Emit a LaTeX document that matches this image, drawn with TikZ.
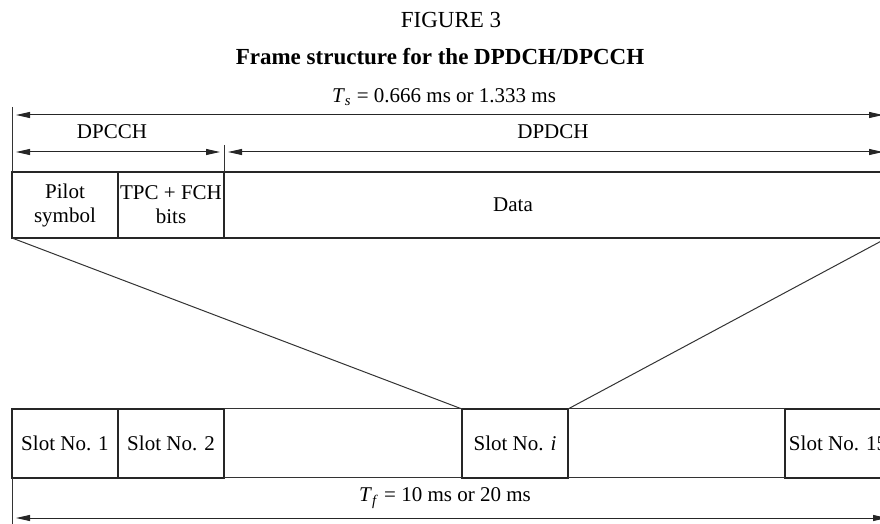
\documentclass[tikz,border=0pt]{standalone}
\usepackage{fontspec}
\setmainfont{Liberation Serif}
\usetikzlibrary{arrows.meta, positioning, calc}

\begin{document}
\begin{tikzpicture}[
    x=0.5pt, y=-0.5pt,
    >={Triangle[length=7pt, width=3pt]},
    font=\fontsize{10.5}{12}\selectfont,
    cell/.style={draw=black!85, line width=0.6pt, minimum height=33pt, inner sep=0pt, outer sep=0pt, anchor=north west, align=center},
    slot/.style={draw=black!85, line width=0.9pt, minimum width=53pt, minimum height=34.5pt, inner sep=0pt, outer sep=0pt, anchor=north west},
    dim/.style={<->, line width=0.5pt, black!85, shorten <=2pt, shorten >=2pt},
    guide/.style={line width=0.5pt, black!80},
    caption/.style={font=\fontsize{11.5}{13}\selectfont}
  ]
    \useasboundingbox (0,0) rectangle (880,524);
    \clip (0,0) rectangle (880,524);
    % headings
    \node[caption] (fig) at (451,20) {FIGURE 3};
    \node[caption, font=\fontsize{11.5}{13}\selectfont\bfseries] (title) at (440,57) {Frame structure for the DPDCH/DPCCH};
    % one slot, expanded
    \node[cell, minimum width=53pt] (pilot) at (12,172) {Pilot\\symbol};
    \node[cell, minimum width=53pt] (tpc) at (pilot.north east) {TPC + FCH\\bits};
    \node[cell, minimum width=331.5pt] (data) at (tpc.north east) {};
    \node (datatxt) at (513,205) {Data};
    \coordinate (tstop) at (12,107);
    \coordinate (tsL) at (12,115);
    \coordinate (chL) at (12,152);
    \coordinate (tick) at (224,145);
    \draw[guide] (tstop) -- (pilot.north west);
    \draw[guide] (tick) -- (tpc.north east);
    \draw[dim] (tsL) -- (tsL -| data.east);
    \draw[dim] (chL) -- (chL -| tpc.east);
    \draw[dim] (chL -| tpc.east) -- (chL -| data.east);
    \node (ts) at (444,97) {\textit{T}\textsubscript{\textit{s}} = 0.666 ms or 1.333 ms};
    \node (dpcch) at (112,132) {DPCCH};
    \node (dpdch) at (553,132) {DPDCH};
    % frame of 15 slots
    \node[slot] (slot1) at (12,409) {Slot No. 1};
    \node[slot] (slot2) at (slot1.north east) {Slot No. 2};
    \node[slot] (sloti) at (462,409) {Slot No. \textit{i}};
    \node[slot] (slotn) at (785,409) {Slot No. 15};
    \draw[guide] (slot2.north east) -- (sloti.north west);
    \draw[guide] (slot2.south east) -- (sloti.south west);
    \draw[guide] (sloti.north east) -- (slotn.north west);
    \draw[guide] (sloti.south east) -- (slotn.south west);
    \coordinate (tfstop) at (12,524);
    \coordinate (tfL) at (12,518);
    \draw[guide] (slot1.south west) -- (tfstop);
    \draw[dim] (tfL) -- (tfL -| slotn.east);
    \node (tf) at (445,498) {\textit{T}\textsubscript{\textit{f}} = 10 ms or 20 ms};
    % zoom lines
    \draw[guide] (pilot.south west) -- (sloti.north west);
    \draw[guide] (data.south east) -- (sloti.north east);
  \end{tikzpicture}
\end{document}
